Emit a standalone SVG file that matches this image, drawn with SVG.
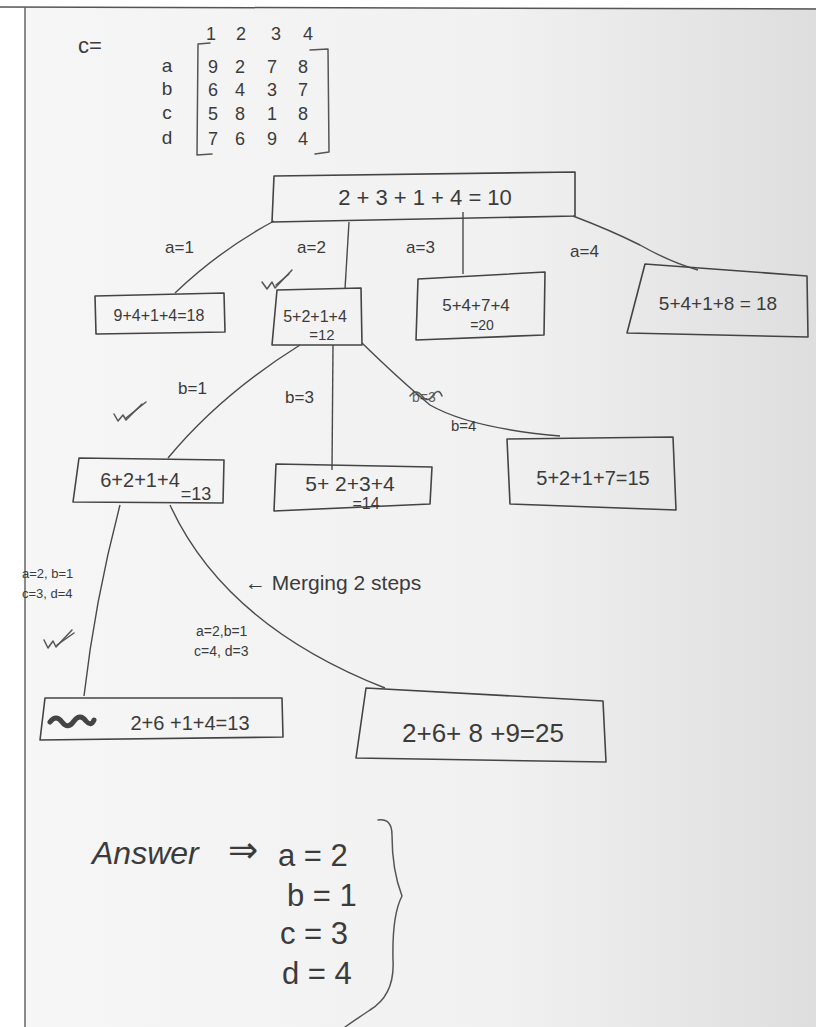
<svg xmlns="http://www.w3.org/2000/svg" width="816" height="1027" viewBox="0 0 816 1027">
<defs>
<linearGradient id="paper" x1="0" y1="0" x2="1" y2="0">
<stop offset="0" stop-color="#f6f6f6"/>
<stop offset="0.6" stop-color="#f1f1f1"/>
<stop offset="1" stop-color="#dedede"/>
</linearGradient>
<style>
.t{font-family:"Liberation Sans","DejaVu Sans",sans-serif;fill:#3b3b3b}
.box{fill:none;stroke:#444;stroke-width:1.6;stroke-linejoin:round}
.edge{fill:none;stroke:#4a4a4a;stroke-width:1.4}
.ink{fill:none;stroke:#555;stroke-width:1.5;stroke-linecap:round;stroke-linejoin:round}
</style>
</defs>
<rect width="816" height="1027" fill="#ffffff"/>
<rect x="25" y="8" width="791" height="1019" fill="url(#paper)"/>
<path d="M0,7 L816,9" stroke="#555" stroke-width="1.5" fill="none"/>
<path d="M25,7 L25,1027" stroke="#666" stroke-width="1.5" fill="none"/>

<g id="matrix">
<text class="t" x="78" y="53" font-size="22">c=</text>
<g class="t" font-size="18" text-anchor="middle">
<text x="211" y="40">1</text><text x="241" y="40">2</text><text x="276" y="40">3</text><text x="308" y="40">4</text>
<text x="167" y="72" font-size="19">a</text><text x="167" y="95" font-size="19">b</text><text x="167" y="119" font-size="19">c</text><text x="167" y="144" font-size="19">d</text>
<text x="213" y="73">9</text><text x="240" y="73">2</text><text x="272" y="73">7</text><text x="303" y="73">8</text>
<text x="213" y="96">6</text><text x="240" y="96">4</text><text x="272" y="96">3</text><text x="303" y="96">7</text>
<text x="213" y="120">5</text><text x="240" y="120">8</text><text x="272" y="120">1</text><text x="303" y="120">8</text>
<text x="213" y="145">7</text><text x="240" y="145">6</text><text x="272" y="145">9</text><text x="303" y="145">4</text>
</g>
<path class="ink" d="M210,43 L198,44 L197,155 L212,154"/>
<path class="ink" d="M310,50 L328,49 L329,152 L315,154"/>
</g>

<g id="connectors">
<path class="edge" d="M274,221 Q220,250 175,293"/>
<path class="edge" d="M349,222 L345,289"/>
<path class="edge" d="M463,212 L463,274"/>
<path class="edge" d="M573,216 Q610,230 640,245 Q670,262 698,270"/>
<path class="edge" d="M300,345 Q220,395 168,458"/>
<path class="edge" d="M333,345 L332,470"/>
<path class="edge" d="M362,343 Q400,380 430,405 Q470,428 560,436"/>
<path class="edge" d="M120,505 Q95,600 84,696"/>
<path class="edge" d="M170,505 Q225,625 385,688"/>
<g class="t" font-size="17">
<text x="165" y="253">a=1</text>
<text x="297" y="253">a=2</text>
<text x="406" y="253">a=3</text>
<text x="570" y="257">a=4</text>
<text x="178" y="394">b=1</text>
<text x="285" y="403">b=3</text>
<text x="451" y="431" font-size="15">b=4</text>
<text x="22" y="578" font-size="13">a=2, b=1</text>
<text x="22" y="598" font-size="13">c=3, d=4</text>
<text x="196" y="636" font-size="14">a=2,b=1</text>
<text x="194" y="656" font-size="14">c=4, d=3</text>
</g>
<text class="t" x="412" y="402" font-size="14" opacity="0.8">b=3</text>
<path class="ink" d="M410,396 q6,-8 12,0 q6,8 12,-2 q5,-6 8,2"/>
<text class="t" x="245" y="590" font-size="21">← Merging 2 steps</text>
<path class="ink" d="M262,282 L267,289 L272,282 L275,288 L292,270"/>
<path class="ink" d="M276,285 L289,274"/>
<path class="ink" d="M114,414 L118,421 L123,415 L126,420 L142,404"/>
<path class="ink" d="M126,418 L146,402"/>
<path class="ink" d="M44,640 L48,648 L53,641 L56,647 L72,630"/>
<path class="ink" d="M57,645 L74,633"/>
</g>

<g id="root">
<path class="box" d="M274,176 L575,172 L575,216 L272,222 Z"/>
<text class="t" x="425" y="205" font-size="22" text-anchor="middle">2 + 3 + 1 + 4 = 10</text>
</g>

<g id="n1">
<path class="box" d="M95,296 L224,293 L225,332 L96,334 Z"/>
<text class="t" x="159" y="321" font-size="16" text-anchor="middle">9+4+1+4=18</text>
</g>
<g id="n2">
<path class="box" d="M277,290 L361,288 L362,345 L272,345 Z"/>
<text class="t" x="315" y="322" font-size="16" text-anchor="middle">5+2+1+4</text>
<text class="t" x="322" y="340" font-size="15" text-anchor="middle">=12</text>
</g>
<g id="n3">
<path class="box" d="M418,279 L545,272 L544,335 L416,340 Z"/>
<text class="t" x="476" y="311" font-size="17" text-anchor="middle">5+4+7+4</text>
<text class="t" x="482" y="330" font-size="14" text-anchor="middle">=20</text>
</g>
<g id="n4">
<path class="box" d="M645,264 L807,276 L808,337 L627,333 Z"/>
<text class="t" x="718" y="310" font-size="19" text-anchor="middle">5+4+1+8 = 18</text>
</g>

<g id="n5">
<path class="box" d="M79,458 L224,460 L223,503 L73,502 Z"/>
<text class="t" x="140" y="487" font-size="20" text-anchor="middle">6+2+1+4</text>
<text class="t" x="196" y="500" font-size="18" text-anchor="middle">=13</text>
</g>
<g id="n6">
<path class="box" d="M276,464 L432,467 L430,504 L274,511 Z"/>
<text class="t" x="350" y="491" font-size="21" text-anchor="middle">5+ 2+3+4</text>
<text class="t" x="366" y="509" font-size="16" text-anchor="middle">=14</text>
</g>
<g id="n7">
<path class="box" d="M507,439 L673,437 L676,510 L510,504 Z"/>
<text class="t" x="593" y="485" font-size="20" text-anchor="middle">5+2+1+7=15</text>
</g>

<g id="n8">
<path class="box" d="M45,698 L282,698 L283,737 L40,740 Z"/>
<path d="M50,722 q6,-8 12,0 q6,8 12,-1 q6,-8 12,0 q5,6 8,-1" fill="none" stroke="#444" stroke-width="5" stroke-linecap="round"/>
<text class="t" x="190" y="730" font-size="20" text-anchor="middle">2+6 +1+4=13</text>
</g>
<g id="n9">
<path class="box" d="M366,688 L603,701 L606,762 L356,758 Z"/>
<text class="t" x="483" y="742" font-size="26" text-anchor="middle">2+6+ 8 +9=25</text>
</g>

<g id="answer">
<text class="t" x="92" y="864" font-size="32" font-style="italic">Answer</text>
<text class="t" x="228" y="862" font-size="36">⇒</text>
<text class="t" x="278" y="866" font-size="31">a = 2</text>
<text class="t" x="287" y="906" font-size="31">b = 1</text>
<text class="t" x="280" y="944" font-size="31">c = 3</text>
<text class="t" x="282" y="984" font-size="31">d = 4</text>
<path class="ink" d="M378,820 Q392,818 392,835 Q392,870 402,896 Q392,915 393,960 Q395,995 370,1010 Q355,1020 345,1027"/>
</g>
</svg>
